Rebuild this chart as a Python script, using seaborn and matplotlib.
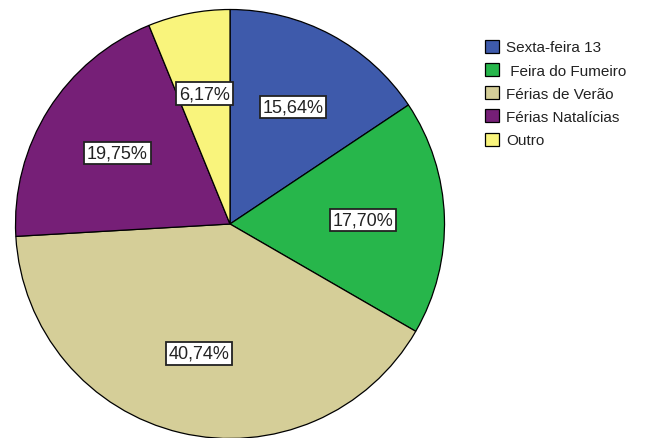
import matplotlib
matplotlib.use("Agg")
import matplotlib.pyplot as plt
import seaborn as sns

categories = ["Sexta-feira 13", " Feira do Fumeiro", "Férias de Verão", "Férias Natalícias", "Outro"]
percentages = [15.64, 17.70, 40.74, 19.75, 6.17]
colors = ["#3e5aab", "#27b64b", "#d5ce98", "#761f77", "#f9f47c"]

sns.set_style("white")
plt.rcParams["font.family"] = ["Liberation Sans", "DejaVu Sans"]

fig = plt.figure(figsize=(6.56, 4.39), dpi=100)
# pie centre around (230, 225) px, radius ~214.5 px
ax = fig.add_axes([15.5 / 656, -0.5 / 439, 429 / 656, 429 / 439])

wedges, texts, autotexts = ax.pie(
    percentages,
    colors=colors,
    startangle=90,
    counterclock=False,
    radius=1,
    autopct=lambda p: f"{p:.2f}%".replace(".", ","),
    pctdistance=0.62,
    wedgeprops=dict(edgecolor="black", linewidth=0.9),
    textprops=dict(fontsize=13, color="#222222"),
)
for t in autotexts:
    t.set_bbox(dict(boxstyle="square,pad=0.15", facecolor="white", edgecolor="#222222", linewidth=1.3))

ax.set_xlim(-1, 1)
ax.set_ylim(-1, 1)
ax.set_aspect("equal")
ax.axis("off")

fig.legend(
    wedges, categories,
    loc="upper left",
    bbox_to_anchor=(474 / 656, 1 - 30 / 439),
    frameon=False,
    fontsize=11,
    labelcolor="#222222",
    handlelength=0.92,
    handleheight=0.92,
    handletextpad=0.5,
    labelspacing=0.56,
    borderpad=0.2,
)

fig.savefig("out.png", dpi=100)
